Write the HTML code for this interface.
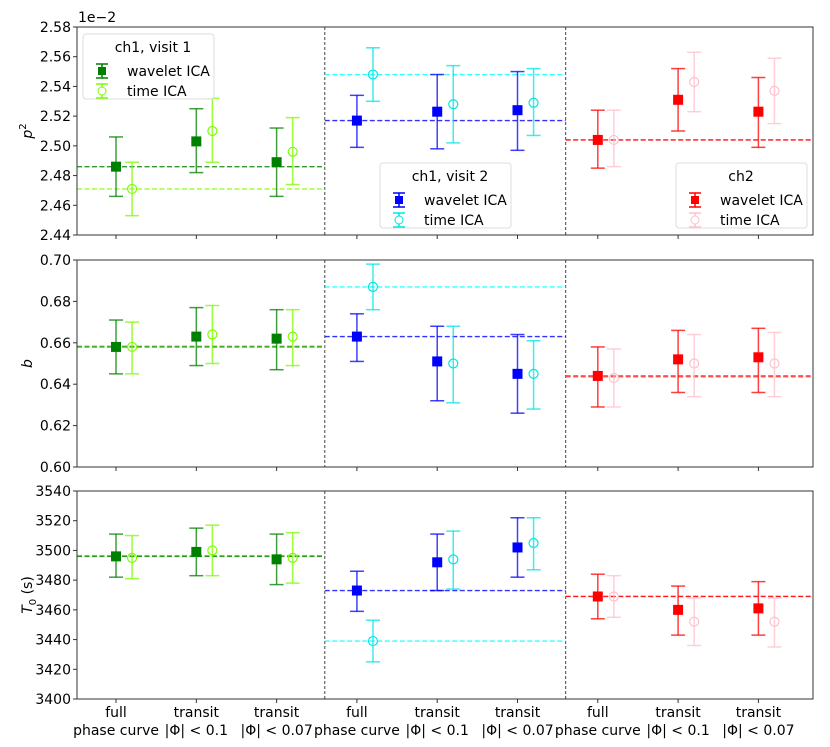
<!DOCTYPE html>
<html><head><meta charset="utf-8"><style>
html,body{margin:0;padding:0;background:#fff;}
svg{display:block;font-family:"DejaVu Sans","Liberation Sans",sans-serif;}
</style></head><body>
<svg id="chart" width="830" height="747" viewBox="0 0 830 747" xmlns="http://www.w3.org/2000/svg"></svg>
<script>
// ---- data ----
const categories = ["full\nphase curve","transit\n|Φ| < 0.1","transit\n|Φ| < 0.07"];
const groups = ["ch1, visit 1","ch1, visit 2","ch2"];
const p2Wavelet = [[2.486,2.466,2.506],[2.503,2.482,2.525],[2.489,2.466,2.512],
                   [2.517,2.499,2.534],[2.523,2.498,2.548],[2.524,2.497,2.550],
                   [2.504,2.485,2.524],[2.531,2.510,2.552],[2.523,2.499,2.546]];
const p2Time    = [[2.471,2.453,2.489],[2.510,2.489,2.532],[2.496,2.474,2.519],
                   [2.548,2.530,2.566],[2.528,2.502,2.554],[2.529,2.507,2.552],
                   [2.504,2.486,2.524],[2.543,2.523,2.563],[2.537,2.515,2.559]];
const p2RefWavelet = [2.486,2.517,2.504];
const p2RefTime    = [2.471,2.548,2.504];
const bWavelet = [[.658,.645,.671],[.663,.649,.677],[.662,.647,.676],
                  [.663,.651,.674],[.651,.632,.668],[.645,.626,.664],
                  [.644,.629,.658],[.652,.636,.666],[.653,.636,.667]];
const bTime    = [[.658,.645,.670],[.664,.650,.678],[.663,.649,.676],
                  [.687,.676,.698],[.650,.631,.668],[.645,.628,.661],
                  [.643,.629,.657],[.650,.634,.664],[.650,.634,.665]];
const bRefWavelet = [.658,.663,.644];
const bRefTime    = [.6585,.687,.6435];
const t0Wavelet = [[3496,3482,3511],[3499,3483,3515],[3494,3477,3511],
                   [3473,3459,3486],[3492,3473,3511],[3502,3482,3522],
                   [3469,3454,3484],[3460,3443,3476],[3461,3443,3479]];
const t0Time    = [[3495,3481,3510],[3500,3483,3517],[3495,3478,3512],
                   [3439,3425,3453],[3494,3474,3513],[3505,3487,3522],
                   [3469,3455,3483],[3452,3436,3468],[3452,3435,3468]];
const t0RefWavelet = [3496,3473,3469];
const t0RefTime    = [3496.5,3439,3469];
const p2Ticks = ["2.44","2.46","2.48","2.50","2.52","2.54","2.56","2.58"];
const bTicks  = ["0.60","0.62","0.64","0.66","0.68","0.70"];
const t0Ticks = ["3400","3420","3440","3460","3480","3500","3520","3540"];

// ---- layout ----
const NS="http://www.w3.org/2000/svg";
const svg=document.getElementById('chart');
const L=77,R=813,X0=-0.486,X1=8.68;
const xs=v=>L+(v-X0)/(X1-X0)*(R-L);
const wCol=["#008000","#0000ff","#ff0000"], tCol=["#7cfc00","#00e5e5","#ffc0cb"];
const tColLine=["#7cfc00","#00ffff","#ff6f6f"];
function el(tag,attrs,parent){const e=document.createElementNS(NS,tag);for(const k in attrs)e.setAttribute(k,attrs[k]);(parent||svg).appendChild(e);return e;}

function panel(name,top,bot,ymin,ymax,ticks,W,T,RW,RT,ylabel,showX){
  const g=el('g',{});
  
  
  const ys=v=>bot-(v-ymin)/(ymax-ymin)*(bot-top);
  [2.6,5.6].forEach(d=>{const ln=el('line',{x1:xs(d),x2:xs(d),y1:top,y2:bot,stroke:'#444','stroke-width':1,'stroke-dasharray':'3,2'},g);
    });
  for(let gi=0;gi<3;gi++){
    const xa=gi==0?L:xs(gi*3-0.4), xb=gi==2?R:xs(gi*3+2.6);
    [[RT[gi],tColLine[gi]],[RW[gi],wCol[gi]]].forEach(([v,c])=>{
      const ln=el('line',{x1:xa,x2:xb,y1:ys(v),y2:ys(v),stroke:c,'stroke-width':1.4,'stroke-dasharray':'5,2.5',opacity:0.8},g);
      });
  }
  function pt(d,i,x,c,filled){
    const gg=el('g',{},g);
    
    
    const y=ys(d[0]),y1=ys(d[1]),y2=ys(d[2]);
    el('line',{x1:x,x2:x,y1:y1,y2:y2,stroke:c,'stroke-width':1.5,opacity:0.75},gg);
    el('line',{x1:x-7,x2:x+7,y1:y1,y2:y1,stroke:c,'stroke-width':1.5,opacity:0.75},gg);
    el('line',{x1:x-7,x2:x+7,y1:y2,y2:y2,stroke:c,'stroke-width':1.5,opacity:0.75},gg);
    if(filled) el('rect',{x:x-5,y:y-5,width:10,height:10,fill:c},gg);
    else el('circle',{cx:x,cy:y,r:4.5,fill:'none',stroke:c,'stroke-width':1.2},gg);
  }
  for(let i=0;i<9;i++){const gi=Math.floor(i/3);pt(W[i],i,xs(i),wCol[gi],true);pt(T[i],i,xs(i+0.2),tCol[gi],false);}
  const fr=el('rect',{x:L,y:top,width:R-L,height:bot-top,fill:'none',stroke:'#333','stroke-width':1},g);
  
  ticks.forEach((t,k)=>{const v=ymin+k*(ymax-ymin)/(ticks.length-1);const y=ys(v);
    el('line',{x1:L-4,x2:L,y1:y,y2:y,stroke:'#333'},g);
    const tx=el('text',{x:L-6,y:y+5,'text-anchor':'end','font-size':14,fill:'#000'},g);tx.textContent=t;
    });
  for(let i=0;i<9;i++) el('line',{x1:xs(i),x2:xs(i),y1:bot,y2:bot+4,stroke:'#333'},g);
  const yl=el('text',{x:0,y:0,transform:`translate(32,${(top+bot)/2}) rotate(-90)`,'text-anchor':'middle','font-size':14,'font-style':'italic'},g);
  yl.innerHTML=ylabel;
  
  if(showX){for(let i=0;i<9;i++){const lines=categories[i%3].split('\n');
    lines.forEach((s,j)=>{const tx=el('text',{x:xs(i),y:bot+18+j*18,'text-anchor':'middle','font-size':14},g);tx.textContent=s;
      });}}
}
panel('p2',27,235,2.44,2.58,p2Ticks,p2Wavelet,p2Time,p2RefWavelet,p2RefTime,'p<tspan dy="-6" font-size="10" font-style="normal">2</tspan>',false);
panel('b',260,467,0.60,0.70,bTicks,bWavelet,bTime,bRefWavelet,bRefTime,'b',false);
panel('t0',491,699,3400,3540,t0Ticks,t0Wavelet,t0Time,t0RefWavelet,t0RefTime,'T<tspan dy="4" font-size="10" font-style="normal">0</tspan><tspan dy="-4" font-style="normal"> (s)</tspan>',true);
const off=el('text',{x:78,y:22,'font-size':14});off.textContent='1e−2';


function legend(x,y,gi){
  const g=el('g',{});
  
  
  el('rect',{x:x,y:y,width:131,height:65,rx:3,fill:'#fff','fill-opacity':0.85,stroke:'#ddd'},g);
  const t=el('text',{x:x+(gi==2?65:70),y:y+18,'text-anchor':'middle','font-size':14},g);t.textContent=groups[gi];
  [[wCol[gi],true,'wavelet ICA'],[tCol[gi],false,'time ICA']].forEach(([c,f,s],k)=>{
    const cy=y+37+k*20,cx=x+19;
    el('line',{x1:cx,x2:cx,y1:cy-7,y2:cy+7,stroke:c,'stroke-width':1.5},g);
    el('line',{x1:cx-6,x2:cx+6,y1:cy-7,y2:cy-7,stroke:c,'stroke-width':1.5},g);
    el('line',{x1:cx-6,x2:cx+6,y1:cy+7,y2:cy+7,stroke:c,'stroke-width':1.5},g);
    if(f) el('rect',{x:cx-4,y:cy-4,width:8,height:8,fill:c},g); else el('circle',{cx:cx,cy:cy,r:4,fill:'#fff',stroke:c},g);
    const tx=el('text',{x:x+44,y:cy+5,'font-size':14},g);tx.textContent=s;
    
  });
}
legend(83,34,0);legend(380,163,1);legend(676,163,2);
</script>
</body></html>
